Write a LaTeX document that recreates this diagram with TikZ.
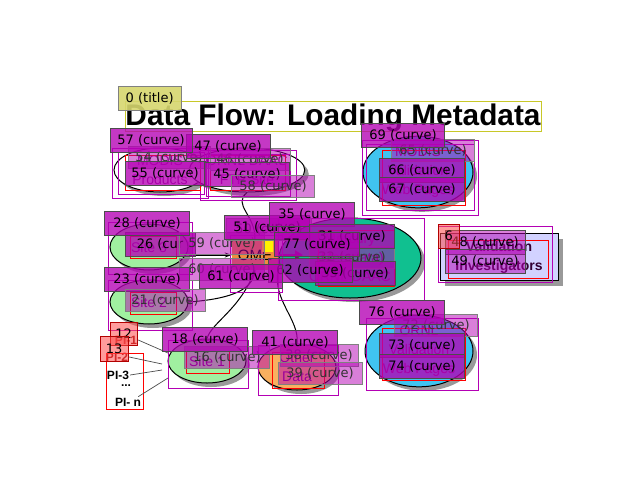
\documentclass[tikz,border=0pt]{standalone}
\usepackage{fontspec}
\setmainfont{Liberation Sans}
\newfontfamily\ovlfont{DejaVu Sans}
\usetikzlibrary{shapes.geometric,arrows.meta,shadows}
\definecolor{ovlc}{RGB}{180,0,180}
\definecolor{sitegreen}{RGB}{160,240,160}
\definecolor{webblue}{RGB}{64,196,240}
\definecolor{mercteal}{RGB}{16,192,144}
\definecolor{otherorange}{RGB}{248,176,96}
\definecolor{omeorange}{RGB}{240,140,60}
\definecolor{invlav}{RGB}{210,210,255}
\definecolor{labpurple}{RGB}{128,0,128}
\definecolor{titleyel}{RGB}{200,200,40}
\definecolor{khaki}{RGB}{214,214,110}
\tikzset{
  ell/.style={ellipse, draw=black, line width=1pt, inner sep=0pt, align=center,
    text=labpurple, font=\fontsize{14}{19}\selectfont,
    drop shadow={shadow xshift=4pt, shadow yshift=-4pt, fill=gray!80, opacity=1}},
  conn/.style={draw=black, line width=1pt},
  arr/.style={conn, -{Stealth[length=7pt,width=5pt]}},
  ovd/.style={draw=black!70, fill=ovlc, fill opacity=0.78, text opacity=1, text=black,
    font=\ovlfont\fontsize{13}{13}\selectfont, inner sep=0pt, minimum height=24},
  ovl/.style={draw=black!50, fill=ovlc, fill opacity=0.5, text opacity=1, text=black!80,
    font=\ovlfont\fontsize{13}{13}\selectfont, inner sep=0pt, minimum height=22},
  ovr/.style={draw=red!70!black, fill=red!70, fill opacity=0.55, text opacity=1, text=black,
    font=\ovlfont\fontsize{13}{13}\selectfont, inner sep=0pt, anchor=north west},
  bb/.style={draw=ovlc, line width=0.9pt},
  tb/.style={draw=red, line width=0.8pt},
  pitxt/.style={font=\bfseries\fontsize{12}{12}\selectfont, inner sep=1pt}
}
\begin{document}
\begin{tikzpicture}[x=1pt,y=-1pt]
\useasboundingbox (0,0) rectangle (640,480);
\fill[white] (0,0) rectangle (640,480);

% title
\node[font=\bfseries\fontsize{29.8}{30}\selectfont, anchor=base] (title) at (333,125) {Data Flow: Loading Metadata};
\draw[titleyel, line width=0.9pt] (125,101) rectangle (541,131);

% main nodes
\node[ell, fill=white, minimum width=92, minimum height=44] (prod) at (160,170) {MODIS\\Products};
\node[ell, fill=white, minimum width=86, minimum height=44] (ftp) at (247,170) {ORNL DAAC\\FTP Site};
\node[ell, fill=webblue, minimum width=110, minimum height=66] (webtop) at (418,172) {MODIS\\Validation\\Web Pages};
\node[ell, fill=sitegreen, minimum width=78, minimum height=46] (site3) at (149,247) {Site 3};
\node[ell, fill=sitegreen, minimum width=78, minimum height=44] (site2) at (149,302) {Site 2};
\node[ell, fill=sitegreen, minimum width=78, minimum height=44] (site1) at (207,361) {Site 1};
\node[ell, fill=otherorange, minimum width=78, minimum height=46] (other) at (297,367) {Other\\Data};
\node[ell, fill=mercteal, minimum width=142, minimum height=80] (merc) at (350,258) {Mercury\\(Metadata)\\ORNL DAAC};
\node[ell, fill=webblue, minimum width=108, minimum height=66] (webbot) at (419,351) {ORNL\\Validation\\Web Pages};
\node[draw=black, line width=1pt, fill=invlav, minimum width=118, minimum height=47, align=center,
  text=labpurple!40!black, font=\bfseries\fontsize{14}{19}\selectfont,
  drop shadow={shadow xshift=5pt, shadow yshift=-5pt, fill=gray!80, opacity=1}] (inv) at (499,257) {Validation\\Investigators};
\node[fill=omeorange, minimum width=46, minimum height=30, inner sep=0pt,
  font=\fontsize{15}{15}\selectfont] (ome) at (255,255) {OME};
\node[fill=yellow, minimum width=11, minimum height=12, inner sep=0pt, anchor=north west] (omesq) at (262,240) {};

% purple arrow OME -> Mercury
\coordinate (mercin) at (303,255);
\draw[labpurple, line width=3pt, -{Triangle[length=8pt,width=9pt]}] (ome.east) -- (mercin);

% connectors
\draw[arr] (site3.east |- ome.west) -- (ome.west);
\draw[arr] (site2.east) .. controls (215,300) and (250,295) .. (ome.south);
\draw[conn] (site1.north) .. controls (212,322) and (240,310) .. (ome.south);
\draw[conn] (ftp.south) .. controls (232,205) and (256,215) .. (ome.north);
\draw[conn] (other.north) .. controls (300,320) and (272,300) .. (ome.south east);

% PI list
\node[pitxt, text=red!60!black] (pi1) at (126,340) {PI-1};
\node[pitxt, text=red!60!black] (pi2) at (117,357) {PI-2};
\node[pitxt] (pi3) at (118,375) {PI-3};
\node[pitxt] (pidots) at (126,386) {...};
\node[pitxt] (pin) at (128,402) {PI- n};
\draw[red, line width=0.9pt] (106,353) rectangle (143,409);
\coordinate (s1a) at (168,353);
\coordinate (s1b) at (162,364);
\coordinate (s1c) at (162,370);
\coordinate (s1d) at (168,378);
\draw[black!70, line width=0.7pt] (pi1.east) -- (s1a);
\draw[black!70, line width=0.7pt] (pi2.east) -- (s1b);
\draw[black!70, line width=0.7pt] (pi3.east) -- (s1c);
\draw[black!70, line width=0.7pt] ([xshift=-4pt]pin.north east) -- (s1d);

% annotation outlines
\draw[bb] (112,148) rectangle (208,198);
\draw[bb] (118,152) rectangle (204,194);
\draw[bb] (200,150) rectangle (296,200);
\draw[bb] (206,154) rectangle (290,196);
\draw[bb] (362,140) rectangle (478,215);
\draw[bb] (366,144) rectangle (474,210);
\draw[bb] (108,222) rectangle (192,274);
\draw[bb] (108,280) rectangle (192,330);
\draw[bb] (168,340) rectangle (248,388);
\draw[bb] (258,345) rectangle (338,395);
\draw[bb] (278,218) rectangle (424,300);
\draw[bb] (230,235) rectangle (282,292);
\draw[bb] (438,226) rectangle (552,282);
\draw[bb] (366,318) rectangle (478,390);
\draw[tb] (125,155) rectangle (200,190);
\draw[tb] (210,155) rectangle (285,190);
\draw[tb] (382,150) rectangle (465,205);
\draw[tb] (130,236) rectangle (176,258);
\draw[tb] (130,292) rectangle (176,314);
\draw[tb] (186,351) rectangle (229,373);
\draw[tb] (272,352) rectangle (324,388);
\draw[tb] (318,230) rectangle (394,286);
\draw[tb] (448,240) rectangle (548,278);
\draw[tb] (382,328) rectangle (465,380);

% annotation labels
\node[fill=khaki, fill opacity=0.9, text opacity=1, draw=gray, anchor=north west,
  minimum width=63, minimum height=24, inner sep=0pt, font=\ovlfont\fontsize{13}{13}\selectfont] (t0) at (118,86) {0 (title)};

\node[ovl, minimum width=82] (o54) at (169,157) {54 (curve)};
\node[ovl, minimum width=80] (o46) at (250,159) {46 (curve)};
\node[ovd, minimum width=84] (o47) at (228,146) {47 (curve)};
\node[ovd, minimum width=82] (o57) at (151,140) {57 (curve)};
\node[ovd, minimum width=80] (o55) at (165,173) {55 (curve)};
\node[ovd, minimum width=85] (o45) at (247,174) {45 (curve)};
\node[ovl, minimum width=83] (o58) at (273,186) {58 (curve)};

\node[ovl, minimum width=83] (o65) at (433,150) {65 (curve)};
\node[ovd, minimum width=83] (o69) at (403,135) {69 (curve)};
\node[ovd, minimum width=85] (o66) at (422,170) {66 (curve)};
\node[ovd, minimum width=85] (o67) at (422,189) {67 (curve)};

\node[ovd, minimum width=70] (o26) at (160,244) {26 (cur};
\node[ovl, minimum width=85] (o59) at (222,243) {59 (curve)};
\node[ovd, minimum width=85] (o28) at (147,223) {28 (curve)};
\node[ovl, minimum width=85] (o50) at (269,229) {50 (curve)};
\node[ovd, minimum width=85] (o51) at (267,227) {51 (curve)};
\node[ovd, minimum width=85] (o35) at (312,214) {35 (curve)};
\node[ovl, minimum width=85] (o32) at (352,257) {32 (curve)};
\node[ovd, minimum width=85] (o31) at (352,236) {31 (curve)};
\node[ovd, minimum width=85] (o77) at (317,244) {77 (curve)};
\node[ovd, minimum width=80] (o33) at (355,273) {33 (curve)};
\node[ovd, minimum width=84] (o62) at (310,270) {62 (curve)};
\node[ovl, minimum width=85] (o60) at (222,269) {60 (curve)};
\node[ovd, minimum width=83] (o61) at (241,276) {61 (curve)};
\node[ovd, minimum width=85] (o23) at (147,279) {23 (curve)};
\node[ovl, minimum width=80] (o21) at (165,300) {21 (curve)};

\node[ovd, minimum width=80, fill opacity=0.5] (o48) at (485,242) {48 (curve)};
\node[ovd, minimum width=80, fill opacity=0.5] (o49) at (485,261) {49 (curve)};
\node[ovr, minimum width=21, minimum height=24] (r6) at (438,224) {6};

\node[ovl, minimum width=83] (o72) at (436,325) {72 (curve)};
\node[ovd, minimum width=85] (o76) at (402,312) {76 (curve)};
\node[ovd, minimum width=85] (o73) at (422,345) {73 (curve)};
\node[ovd, minimum width=85] (o74) at (422,366) {74 (curve)};

\node[ovl, minimum width=85] (o16) at (227,357) {16 (curve)};
\node[ovd, minimum width=85] (o18) at (205,339) {18 (curve)};
\node[ovl, minimum width=78] (o38) at (319,355) {38 (curve)};
\node[ovl, minimum width=84] (o39) at (320,373) {39 (curve)};
\node[ovd, minimum width=85] (o41) at (295,342) {41 (curve)};

\node[ovr, minimum width=27, minimum height=23] (r12) at (110,322) {12};
\node[ovr, minimum width=28, minimum height=25] (r13) at (100,336) {13};
\end{tikzpicture}
\end{document}
